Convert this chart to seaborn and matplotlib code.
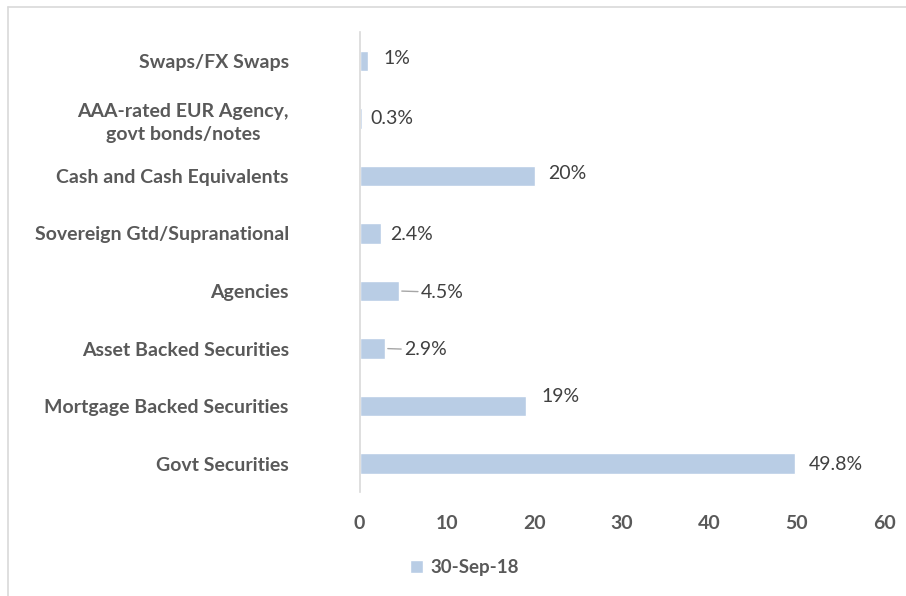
import matplotlib
matplotlib.use("Agg")
import matplotlib.pyplot as plt
import seaborn as sns
from matplotlib.lines import Line2D

categories = [
    "Swaps/FX Swaps",
    "AAA-rated EUR Agency,\ngovt bonds/notes",
    "Cash and Cash Equivalents",
    "Sovereign Gtd/Supranational",
    "Agencies",
    "Asset Backed Securities",
    "Mortgage Backed Securities",
    "Govt Securities",
]
values = [1, 0.3, 20, 2.4, 4.5, 2.9, 19, 49.8]
value_labels = ["1%", "0.3%", "20%", "2.4%", "4.5%", "2.9%", "19%", "49.8%"]
series_name = "30-Sep-18"

bar_color = "#B9CDE5"
text_color = "#595959"

# label offsets in points (dx, dy), and which labels get a leader line
label_offsets = [(11, 2), (6, 0), (10, 2), (7, -1), (16, -1), (14, -1), (11, 7), (10, -1)]
leaders = [False, False, False, False, True, True, False, False]

sns.set_style("white")
plt.rcParams["font.family"] = ["Lato", "DejaVu Sans"]

fig = plt.figure(figsize=(9.06, 5.96), dpi=100)
ax = fig.add_axes([0.397, 0.174, 0.579, 0.772])

sns.barplot(x=values, y=categories, orient="h", color=bar_color, saturation=1,
            width=0.35, label=series_name, ax=ax)

ax.set_xlim(0, 60)
ax.set_xticks(range(0, 61, 10))
ax.tick_params(axis="x", length=0, pad=16, labelsize=14, labelcolor=text_color)
ax.tick_params(axis="y", length=0, pad=51, labelsize=14, labelcolor=text_color)
for t in ax.get_xticklabels():
    t.set_fontweight("bold")
for t in ax.get_yticklabels():
    t.set_fontweight("bold")
    t.set_multialignment("center")
    t.set_linespacing(1.45)
ax.set_xlabel("")
ax.set_ylabel("")

for side in ["top", "right", "bottom"]:
    ax.spines[side].set_visible(False)
ax.spines["left"].set_color("#D9D9D9")
ax.spines["left"].set_linewidth(1.2)

for i, (v, lab) in enumerate(zip(values, value_labels)):
    dx, dy = label_offsets[i]
    arrow = dict(arrowstyle="-", color="#A6A6A6", lw=1, shrinkA=0, shrinkB=2) if leaders[i] else None
    ax.annotate(lab, xy=(v, i), xytext=(dx, dy), textcoords="offset points",
                ha="left", va="center", fontsize=14, color="#404040",
                arrowprops=arrow)

leg = ax.legend(loc="center", bbox_to_anchor=(0.513, 0.047), bbox_transform=fig.transFigure,
                frameon=False, handlelength=0.7, handleheight=0.7, handletextpad=0.4,
                prop={"weight": "bold", "size": 13.5})
for t in leg.get_texts():
    t.set_color(text_color)

# chart-area border (only top and left edges show in the crop)
fig.add_artist(Line2D([8 / 906, 1], [1 - 7 / 596] * 2, transform=fig.transFigure,
                      color="#D9D9D9", lw=1.2))
fig.add_artist(Line2D([8 / 906] * 2, [0, 1 - 7 / 596], transform=fig.transFigure,
                      color="#D9D9D9", lw=1.2))

fig.savefig("out.png", dpi=100)
